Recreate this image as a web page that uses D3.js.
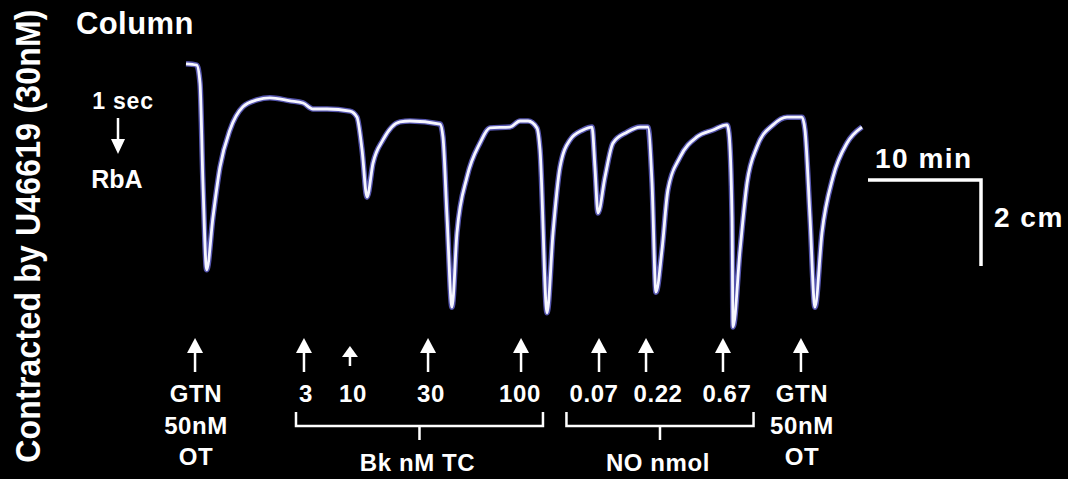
<!DOCTYPE html>
<html>
<head>
<meta charset="utf-8">
<script src="https://cdn.jsdelivr.net/npm/d3@7"></script>
<style>
  html, body { margin: 0; padding: 0; background: #000; }
  svg { display: block; }
  text { font-family: "Liberation Sans", Arial, Helvetica, sans-serif; font-weight: bold; fill: #fff; }
</style>
</head>
<body>
<div id="vis"></div>
<script>
//Recorded tension trace: time in minutes, tension in cm of chart paper
var traceTime = [0, 0.95, 1.24, 1.5, 1.83, 2.39, 3.01, 3.89, 5.04, 6.28, 7.43, 9.2, 10.35, 11.24, 12.48,
  14.51, 15.13, 15.58, 16.02, 16.55, 17.43, 18.94, 19.82, 22.48, 22.74, 23.1, 23.54, 23.98, 24.87,
  26.02, 26.9, 28.67, 29.56, 30.27, 31.06, 31.33, 31.95, 32.48, 33.1, 33.98, 35.13, 35.93, 36.19,
  36.46, 37.08, 37.79, 39.03, 40.18, 40.88, 41.24, 41.59, 42.12, 42.65, 43.72, 45.22, 46.64, 47.88,
  48.05, 48.32, 48.41, 49.03, 49.65, 50.53, 51.95, 53.19, 54.51, 54.78, 55.22, 55.66, 56.28, 57.26,
  58.5, 59.82];
var traceTension = [6.19, 6.16, 5.74, 3.42, 1.4, 2.63, 3.79, 4.65, 5.19, 5.35, 5.4, 5.33, 5.28, 5.14, 5.14,
  5.09, 4.95, 4.19, 3.09, 3.88, 4.42, 4.84, 4.86, 4.79, 4.49, 2.63, 0.53, 2.26, 3.56,
  4.35, 4.7, 4.72, 4.86, 4.86, 4.7, 4.19, 0.4, 2.26, 3.79, 4.42, 4.65, 4.72, 3.79,
  2.72, 3.56, 4.35, 4.6, 4.72, 4.72, 3.42, 0.88, 1.86, 3.26, 4.02, 4.49, 4.65, 4.77,
  4.58, 2.63, 0.07, 1.86, 3.42, 4.26, 4.77, 4.95, 4.95, 4.65, 2.63, 0.53, 2.26, 3.56,
  4.35, 4.72];

//Drug additions
var doseTime = [0.8, 10.44, 14.51, 21.42, 29.65, 36.55, 40.71, 47.52, 54.42];
var doseLabels = ["GTN", "3", "10", "30", "100", "0.07", "0.22", "0.67", "GTN"];
var gtnLines = ["GTN", "50nM", "OT"];

//Dose groups (index ranges into the dose arrays)
var groupNames = ["Bk nM TC", "NO nmol"];
var groupFirst = [1, 5];
var groupLast = [4, 7];

//Calibration bars
var scaleMinutes = 10;
var scaleCm = 2;

var width = 1068, height = 479;

var svgCanvas = d3.select("#vis")
  .append("svg")
  .attr("width", width)
  .attr("height", height);

svgCanvas.append("rect").attr("width", width).attr("height", height).attr("fill", "#000");

var xScale = d3.scaleLinear().domain([0, 60]).range([186, 864]);
var yScale = d3.scaleLinear().domain([0, 6]).range([330, 72]);

var traceData = traceTime.map(function(t, i) { return {t: t, v: traceTension[i]}; });

var traceLine = d3.line()
  .x(function(d) { return xScale(d.t); })
  .y(function(d) { return yScale(d.v); })
  .curve(d3.curveMonotoneX);

//Bluish halo under the white pen line
svgCanvas.append("path")
  .datum(traceData)
  .attr("d", traceLine)
  .attr("fill", "none")
  .attr("stroke", "#6a6ad8")
  .attr("stroke-opacity", 0.8)
  .attr("stroke-width", 5.5)
  .attr("stroke-linejoin", "round");

svgCanvas.append("path")
  .datum(traceData)
  .attr("d", traceLine)
  .attr("fill", "none")
  .attr("stroke", "#f6f6ff")
  .attr("stroke-width", 2.8)
  .attr("stroke-linejoin", "round");

//Up arrows for each addition
function upArrow(g, x, tip, base, tail) {
  g.append("line").attr("x1", x).attr("x2", x).attr("y1", base - 1).attr("y2", tail)
    .attr("stroke", "#fff").attr("stroke-width", 2.5);
  g.append("path")
    .attr("d", "M" + x + "," + tip + "L" + (x + 8) + "," + base + "L" + (x - 8) + "," + base + "Z")
    .attr("fill", "#fff");
}

var labelOffset = [1, 2, 3, 3, -1, -5, 12, 4, 1];
var arrows = svgCanvas.append("g");
var labelNodes = [];

doseTime.forEach(function(t, i) {
  var x = xScale(t);
  if (doseLabels[i] === "10") upArrow(arrows, x, 346, 357, 366);
  else upArrow(arrows, x, 338, 353, 372);

  if (doseLabels[i] === "GTN") {
    gtnLines.forEach(function(s, k) {
      svgCanvas.append("text")
        .attr("x", x + labelOffset[i]).attr("y", 402 + k * 31.5)
        .attr("text-anchor", "middle").attr("font-size", 24)
        .attr("letter-spacing", 0.6)
        .text(s);
    });
  } else {
    labelNodes[i] = svgCanvas.append("text")
      .attr("x", x + labelOffset[i]).attr("y", 402)
      .attr("text-anchor", "middle").attr("font-size", 24)
      .attr("letter-spacing", 0.6)
      .text(doseLabels[i]);
  }
});

//Brackets under the dose groups
groupNames.forEach(function(name, g) {
  var b0 = labelNodes[groupFirst[g]].node().getBBox();
  var b1 = labelNodes[groupLast[g]].node().getBBox();
  var left = b0.x - 3, right = b1.x + b1.width + 2;
  var mid = (left + right) / 2;
  svgCanvas.append("path")
    .attr("d", "M" + left + ",412V426H" + right + "V412M" + mid + ",426V440")
    .attr("fill", "none").attr("stroke", "#fff").attr("stroke-width", 2.5);
  svgCanvas.append("text")
    .attr("x", mid - 2).attr("y", 471)
    .attr("text-anchor", "middle").attr("font-size", 24)
    .attr("letter-spacing", 0.6)
    .text(name);
});

//Titles
svgCanvas.append("text")
  .attr("transform", "translate(40,236) rotate(-90) scale(1,1.12)")
  .attr("text-anchor", "middle").attr("font-size", 32)
  .attr("letter-spacing", 0.2)
  .text("Contracted by U46619 (30nM)");

svgCanvas.append("text")
  .attr("x", 76).attr("y", 34).attr("font-size", 31)
  .attr("letter-spacing", 0.4)
  .text("Column");

svgCanvas.append("text")
  .attr("x", 123).attr("y", 109).attr("text-anchor", "middle").attr("font-size", 23)
  .attr("letter-spacing", 0.8)
  .text("1 sec");

svgCanvas.append("line").attr("x1", 118).attr("x2", 118).attr("y1", 118).attr("y2", 142)
  .attr("stroke", "#fff").attr("stroke-width", 2.5);
svgCanvas.append("path").attr("d", "M118,154L125,139L111,139Z").attr("fill", "#fff");

svgCanvas.append("text")
  .attr("x", 117).attr("y", 188).attr("text-anchor", "middle").attr("font-size", 25)
  .text("RbA");

//Calibration: 10 min horizontal, 2 cm vertical
var cornerX = 981, cornerY = 180;
var barW = xScale(scaleMinutes) - xScale(0);
var barH = yScale(0) - yScale(scaleCm);
svgCanvas.append("path")
  .attr("d", "M" + (cornerX - barW) + "," + cornerY + "H" + cornerX + "V" + (cornerY + barH))
  .attr("fill", "none").attr("stroke", "#fff").attr("stroke-width", 3.5);

svgCanvas.append("text")
  .attr("x", 875).attr("y", 168).attr("font-size", 28).attr("letter-spacing", 1.5)
  .text(scaleMinutes + " min");

svgCanvas.append("text")
  .attr("x", 994).attr("y", 227).attr("font-size", 28).attr("letter-spacing", 1.5)
  .text(scaleCm + " cm");
</script>
</body>
</html>
